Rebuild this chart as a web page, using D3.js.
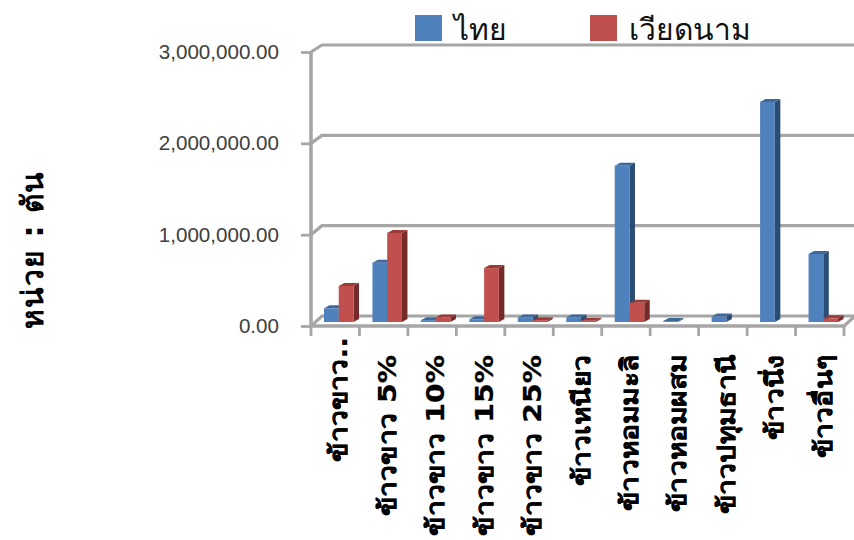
<!DOCTYPE html>
<html><head><meta charset="utf-8">
<script src="https://cdn.jsdelivr.net/npm/d3@7/dist/d3.min.js"></script>
<style>html,body{margin:0;background:#fff;overflow:hidden}svg{display:block}</style>
</head><body><svg id="c" width="854" height="540"></svg>
<script>
const categories = ["ข้าวขาว..","ข้าวขาว 5%","ข้าวขาว 10%","ข้าวขาว 15%","ข้าวขาว 25%","ข้าวเหนียว","ข้าวหอมมะลิ","ข้าวหอมผสม","ข้าวปทุมธานี","ข้าวนึ่ง","ข้าวอื่นๆ"];
const seriesNames = ["ไทย","เวียดนาม"];
const thai = [150000,650000,20000,30000,50000,50000,1710000,10000,60000,2410000,745000];
const vietnam = [395000,975000,50000,590000,20000,15000,210000,0,0,0,40000];
const yTicks = [0,1000000,2000000,3000000];
const yTitle = "หน่วย : ตัน";

const svg = d3.select("#c");
const x = d3.scaleBand().domain(categories).range([311,844]);
const y = d3.scaleLinear().domain([0,3000000]).range([326,52]);
const yBack = d3.scaleLinear().domain([0,3000000]).range([316,45]);
const yBar = d3.scaleLinear().domain([0,3000000]).range([322,48]);
const inner = d3.scaleBand().domain(seriesNames).range([13,42.5]);
const depthX = 11, barDX = 5.5, barDY = 3;
const grey = "#a6a6a6";
const defs = svg.append("defs");
defs.append("filter").attr("id","soft").append("feGaussianBlur").attr("stdDeviation",0.5);
const colors = {"ไทย":["#4f81bd","#2c4d75","#3c6798"],"เวียดนาม":["#c0504d","#772c2a","#9a3a38"]};

// walls and gridlines
const frame = svg.append("g").attr("filter","url(#soft)").attr("fill","none").attr("stroke",grey).attr("stroke-width",3.2);
yTicks.forEach(t=>{
  frame.append("path").attr("d",`M${x.range()[0]},${y(t)}L${x.range()[0]+depthX},${yBack(t)}L854,${yBack(t)}`);
});
frame.append("path").attr("d",`M${x.range()[1]},${y(0)}L${x.range()[1]+depthX},${yBack(0)}`);

// front axes
const yAxis = svg.append("g").attr("transform",`translate(${x.range()[0]},0)`)
  .call(d3.axisLeft(y).tickValues(yTicks).tickSize(10).tickPadding(22).tickFormat(d3.format(",.2f")));
yAxis.selectAll("line").attr("stroke",grey).attr("stroke-width",2.8);
yAxis.select(".domain").attr("stroke",grey).attr("stroke-width",3.6).attr("d",`M0,${y(3000000)}V${y(0)}`);
yAxis.selectAll("text").attr("font-family","'Liberation Sans',sans-serif").attr("font-size",20.6).attr("fill","#404040");

const xAxis = svg.append("g").attr("transform",`translate(0,${y(0)})`)
  .call(d3.axisBottom(x).tickSize(0).tickFormat(""));
xAxis.selectAll(".tick").remove();
xAxis.select(".domain").attr("stroke",grey).attr("stroke-width",3.4).attr("d",`M${x.range()[0]},0H${x.range()[1]}`);
xAxis.selectAll(".edge").data([...categories.map(c=>x(c)),x.range()[1]]).enter().append("line")
  .attr("x1",d=>d).attr("x2",d=>d).attr("y1",0).attr("y2",10).attr("stroke",grey).attr("stroke-width",2.8);

// bars
const barsG = svg.append("g").attr("filter","url(#soft)");
categories.forEach((c,i)=>{
  [thai[i],vietnam[i]].forEach((v,s)=>{
    const name = seriesNames[s];
    if(!v) return;
    const bw = inner.bandwidth(), l = x(c)+inner(name), r = l+bw, t = yBar(v), b = yBar(0);
    const g = barsG.append("g");
    g.append("path").attr("fill",colors[name][1]).attr("d",`M${r},${t}L${r+barDX},${t-barDY}L${r+barDX},${b-barDY}L${r},${b}Z`);
    g.append("path").attr("fill",colors[name][2]).attr("d",`M${l},${t}L${l+barDX},${t-barDY}L${r+barDX},${t-barDY}L${r},${t}Z`);
    g.append("rect").attr("fill",colors[name][0]).attr("x",l).attr("y",t).attr("width",bw).attr("height",b-t);
  });
});

// category labels
const labelTop = [337,355,355,355,355,355,355,355,355,355,355];
svg.append("g").selectAll("text").data(categories).enter().append("text")
  .attr("transform",(d,i)=>`translate(${x(d)+x.bandwidth()/2+12},${labelTop[i]}) rotate(-90) scale(1.17,1)`)
  .attr("text-anchor","end").attr("font-family","'DejaVu Sans','Noto Sans',sans-serif").attr("font-weight","bold")
  .attr("font-size",24.2).attr("stroke","#000").attr("stroke-width",0.25).attr("fill","#000").text(d=>d);

// y title
svg.append("text").attr("transform","translate(43,250) rotate(-90)").attr("text-anchor","middle")
  .attr("font-family","'DejaVu Sans','Noto Sans',sans-serif").attr("font-weight","bold").attr("font-size",30).attr("letter-spacing",1).attr("fill","#000").text(yTitle);

// legend
const legendX = d3.scaleOrdinal().domain(seriesNames).range([415,590]);
const lg = svg.append("g").selectAll("g").data(seriesNames).enter().append("g");
lg.append("rect").attr("x",d=>legendX(d)).attr("y",15).attr("width",27).attr("height",26).attr("fill",d=>colors[d][0]);
lg.append("text").attr("x",d=>legendX(d)+39).attr("y",40).attr("font-family","'Noto Sans',sans-serif")
  .attr("font-size",30).attr("fill","#111").text(d=>d);
</script></body></html>
